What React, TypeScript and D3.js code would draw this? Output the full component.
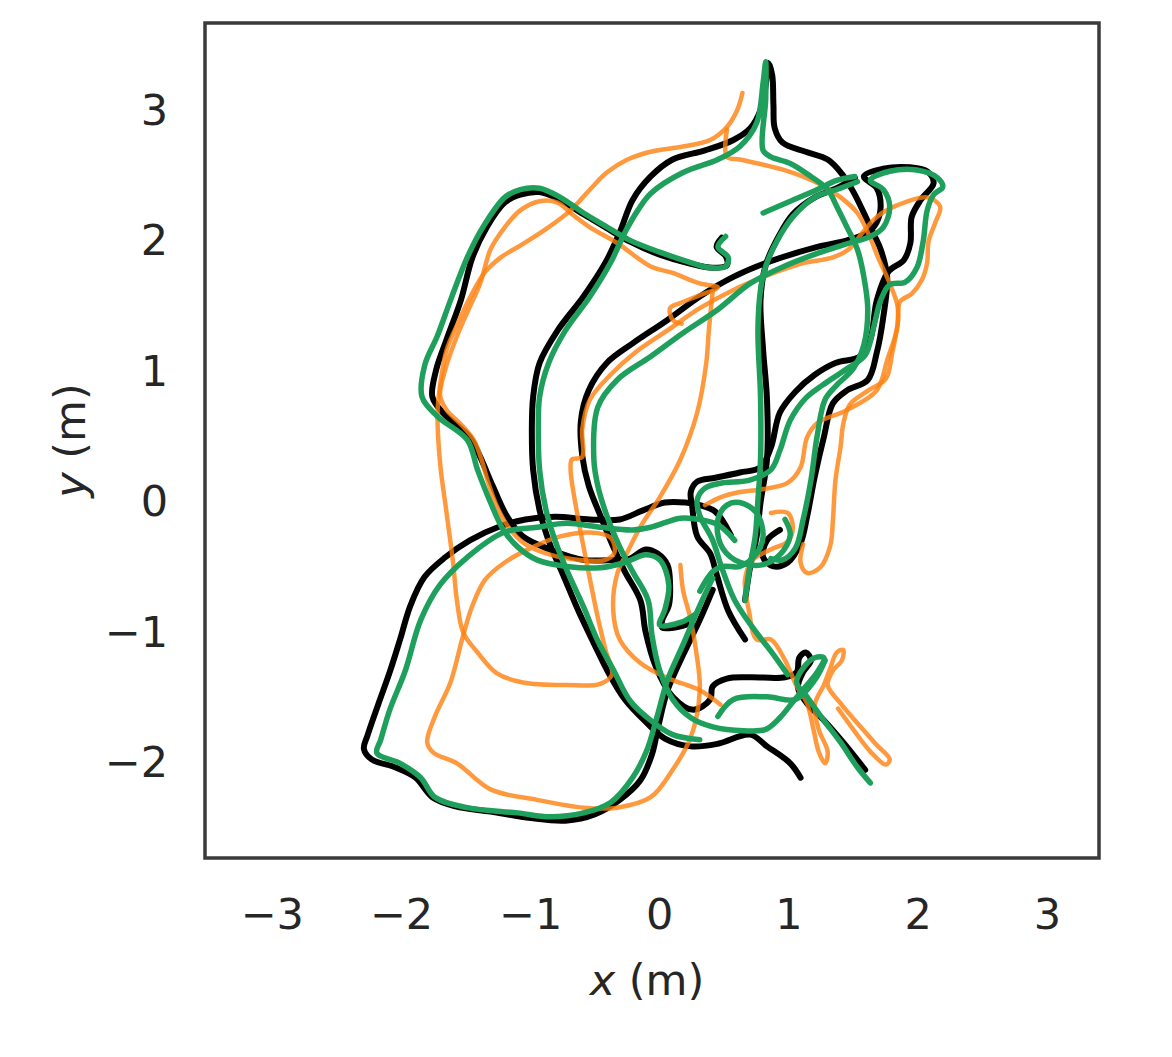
import React from "react";
import * as d3 from "d3";

type P = [number, number];

const xTicks = [-3, -2, -1, 0, 1, 2, 3];
const yTicks = [-2, -1, 0, 1, 2, 3];

// ground truth (black)
const blackA: P[] = [[0.48,2.02],[0.44,1.95],[0.51,1.88],[0.52,1.81],[0.41,1.79],[0.24,1.82],[0.00,1.89],[-0.23,1.99],[-0.42,2.10],[-0.59,2.20],[-0.77,2.31],[-0.93,2.37],[-1.08,2.35],[-1.20,2.29],[-1.34,2.10],[-1.45,1.87],[-1.54,1.54],[-1.65,1.24],[-1.73,1.01],[-1.76,0.80],[-1.68,0.68],[-1.47,0.49],[-1.39,0.34],[-1.29,0.11],[-1.18,-0.12],[-1.06,-0.27],[-0.85,-0.37],[-0.59,-0.45],[-0.36,-0.45],[-0.23,-0.44],[-0.11,-0.37],[-0.02,-0.40],[0.06,-0.49],[0.08,-0.64],[0.07,-0.80],[0.02,-0.91],[0.02,-0.97],[0.16,-0.96],[0.25,-0.93]];
const blackB: P[] = [[0.55,-0.26],[0.43,-0.08],[0.31,-0.03],[0.20,-0.01],[0.04,-0.01],[-0.13,-0.07],[-0.31,-0.14],[-0.54,-0.14],[-0.81,-0.12],[-1.04,-0.14],[-1.23,-0.19],[-1.47,-0.30],[-1.66,-0.43],[-1.82,-0.58],[-1.93,-0.80],[-2.01,-1.06],[-2.09,-1.31],[-2.18,-1.56],[-2.26,-1.79],[-2.29,-1.90],[-2.23,-1.98],[-2.05,-2.04],[-1.89,-2.12],[-1.76,-2.27],[-1.58,-2.34],[-1.31,-2.38],[-1.00,-2.43],[-0.73,-2.45],[-0.50,-2.40],[-0.31,-2.29],[-0.15,-2.14],[-0.06,-1.94],[-0.01,-1.72],[0.06,-1.45],[0.18,-1.18],[0.31,-0.91],[0.41,-0.68]];
const blackC: P[] = [[1.09,-2.12],[1.01,-2.01],[0.83,-1.88],[0.70,-1.79],[0.45,-1.86],[0.24,-1.88],[0.04,-1.82],[-0.11,-1.69],[-0.27,-1.52],[-0.40,-1.31],[-0.51,-1.09],[-0.63,-0.84],[-0.75,-0.56],[-0.85,-0.33],[-0.93,-0.07],[-0.98,0.24],[-0.99,0.55],[-0.98,0.80],[-0.93,1.06],[-0.79,1.31],[-0.59,1.57],[-0.42,1.83],[-0.31,2.06],[-0.21,2.31],[-0.07,2.49],[0.10,2.62],[0.35,2.69],[0.57,2.77],[0.70,2.86],[0.78,3.00],[0.82,3.19],[0.84,3.36],[0.87,3.27],[0.88,3.04],[0.89,2.86],[0.95,2.75],[1.13,2.68],[1.30,2.62],[1.41,2.51],[1.50,2.37],[1.58,2.21],[1.65,2.06],[1.71,1.93],[1.76,1.72],[1.73,1.41],[1.68,1.14],[1.61,0.93],[1.45,0.85],[1.34,0.75],[1.27,0.49],[1.20,0.19],[1.14,-0.12],[1.09,-0.32],[0.99,-0.47],[0.88,-0.50],[0.80,-0.43],[0.83,-0.30],[0.93,-0.22]];
const blackD: P[] = [[1.59,-2.06],[1.42,-1.85],[1.27,-1.68],[1.14,-1.55],[1.07,-1.43],[1.11,-1.31],[1.17,-1.22],[1.13,-1.16],[1.08,-1.20],[1.06,-1.31],[0.97,-1.35],[0.70,-1.35],[0.52,-1.36],[0.41,-1.42],[0.39,-1.52],[0.26,-1.60],[0.10,-1.50],[-0.03,-1.27],[-0.11,-1.00],[-0.15,-0.76],[-0.27,-0.54],[-0.36,-0.35],[-0.46,-0.11],[-0.55,0.12],[-0.60,0.35],[-0.61,0.62],[-0.55,0.85],[-0.41,1.06],[-0.21,1.21],[0.06,1.39],[0.31,1.57],[0.57,1.72],[0.83,1.83],[1.22,1.95],[1.45,2.00],[1.61,2.06],[1.68,2.14],[1.71,2.26],[1.68,2.40],[1.58,2.49],[1.73,2.55],[1.94,2.56],[2.07,2.53],[2.12,2.44],[2.02,2.31],[1.95,2.18],[1.94,1.98],[1.89,1.85],[1.77,1.76],[1.68,1.54],[1.63,1.24],[1.55,1.11],[1.36,1.06],[1.20,0.97],[1.05,0.84],[0.93,0.68],[0.86,0.41],[0.78,0.26],[0.62,0.22],[0.43,0.18],[0.29,0.15],[0.24,0.07],[0.25,-0.03],[0.29,-0.27],[0.39,-0.40],[0.44,-0.56],[0.53,-0.84],[0.66,-1.06]];
const blackE: P[] = [[0.66,-0.76],[0.70,-0.50],[0.75,-0.27],[0.78,-0.01],[0.83,0.32],[0.83,0.78],[0.80,1.16],[0.78,1.54],[0.82,1.81],[0.92,2.03],[1.03,2.20],[1.20,2.33],[1.37,2.40],[1.51,2.48]];

// estimate 1 (orange)
const orangeA: P[] = [[0.64,3.13],[0.60,3.00],[0.52,2.87],[0.39,2.77],[0.18,2.72],[-0.07,2.68],[-0.25,2.62],[-0.41,2.52],[-0.54,2.39],[-0.69,2.23],[-0.89,2.08],[-1.08,1.96],[-1.23,1.87],[-1.35,1.76],[-1.47,1.56],[-1.56,1.37],[-1.65,1.16],[-1.70,0.89],[-1.72,0.68],[-1.70,0.29],[-1.65,-0.09],[-1.60,-0.47],[-1.57,-0.76],[-1.52,-1.01],[-1.41,-1.16],[-1.26,-1.32],[-1.06,-1.39],[-0.72,-1.41],[-0.46,-1.40],[-0.37,-1.33],[-0.42,-1.14],[-0.48,-0.89],[-0.54,-0.60],[-0.59,-0.35],[-0.64,-0.09],[-0.69,0.24],[-0.68,0.32],[-0.60,0.34],[-0.60,0.55],[-0.54,0.78],[-0.38,0.97],[-0.19,1.14],[0.06,1.31],[0.31,1.48],[0.57,1.62],[0.83,1.73],[1.09,1.82],[1.34,1.87],[1.46,1.93],[1.57,2.06],[1.68,2.18],[1.84,2.27],[2.07,2.33],[2.17,2.26],[2.13,2.13],[2.08,1.99],[2.07,1.83],[2.03,1.70],[1.95,1.59],[1.86,1.53],[1.84,1.35],[1.80,1.14],[1.75,0.94],[1.60,0.84],[1.47,0.74],[1.42,0.59],[1.40,0.42],[1.36,0.16],[1.34,-0.15],[1.32,-0.34],[1.24,-0.51],[1.14,-0.55],[1.09,-0.47],[1.11,-0.33]];
const orangeB: P[] = [[0.17,1.36],[0.10,1.39],[0.08,1.48],[0.16,1.52],[0.31,1.58],[0.45,1.64],[0.31,1.67],[0.10,1.75],[-0.07,1.80],[-0.33,1.98],[-0.54,2.10],[-0.69,2.21],[-0.79,2.29],[-0.93,2.30],[-1.08,2.23],[-1.20,2.10],[-1.31,1.93],[-1.39,1.67],[-1.48,1.47],[-1.58,1.24],[-1.66,1.01],[-1.70,0.81],[-1.65,0.70],[-1.53,0.58],[-1.44,0.47],[-1.38,0.32],[-1.33,0.15],[-1.26,-0.04],[-1.17,-0.20],[-1.04,-0.33],[-0.85,-0.41],[-0.62,-0.45],[-0.42,-0.45],[-0.35,-0.39],[-0.38,-0.28],[-0.54,-0.24],[-0.77,-0.27],[-1.00,-0.36],[-1.20,-0.47],[-1.35,-0.60],[-1.45,-0.80],[-1.53,-1.06],[-1.62,-1.39],[-1.74,-1.65],[-1.80,-1.85],[-1.75,-1.93],[-1.57,-2.01],[-1.31,-2.21],[-0.95,-2.29],[-0.59,-2.35],[-0.33,-2.35],[-0.07,-2.27],[0.10,-2.06],[0.24,-1.81],[0.31,-1.45],[0.28,-1.14],[0.24,-0.91],[0.18,-0.68],[0.16,-0.49]];
const orangeC: P[] = [[0.52,2.85],[0.52,2.64],[0.62,2.62],[0.96,2.54],[1.22,2.44],[1.40,2.33],[1.53,2.21],[1.62,2.04],[1.69,1.87],[1.78,1.67],[1.84,1.50],[1.84,1.34],[1.76,1.08],[1.68,0.85],[1.45,0.70],[1.22,0.60],[1.14,0.49],[1.09,0.26],[0.99,0.14],[0.78,0.09],[0.62,0.07],[0.47,0.03],[0.35,-0.03]];
const orangeD: P[] = [[0.41,1.61],[0.38,1.31],[0.36,1.06],[0.29,0.68],[0.16,0.32],[0.00,0.03],[-0.14,-0.18],[-0.24,-0.37],[-0.33,-0.56],[-0.36,-0.84],[-0.31,-1.06],[-0.15,-1.24],[0.07,-1.36],[0.31,-1.45],[0.47,-1.56]];
const orangeE: P[] = [[0.86,-0.09],[0.99,-0.09],[1.03,-0.20],[0.99,-0.31],[0.86,-0.37],[0.72,-0.45],[0.66,-0.60],[0.69,-0.84],[0.75,-1.06],[0.86,-1.06],[0.97,-1.22],[1.06,-1.42],[1.14,-1.55],[1.19,-1.75],[1.23,-1.92],[1.28,-2.01],[1.30,-1.92],[1.23,-1.75],[1.20,-1.56],[1.27,-1.41],[1.32,-1.28],[1.37,-1.16],[1.42,-1.14],[1.41,-1.22],[1.34,-1.30],[1.30,-1.41],[1.40,-1.55],[1.51,-1.68],[1.68,-1.87],[1.78,-1.98],[1.75,-2.02],[1.63,-1.92],[1.49,-1.74],[1.38,-1.59]];

// estimate 2 (green)
const greenA: P[] = [[0.51,2.03],[0.45,1.95],[0.53,1.87],[0.51,1.80],[0.39,1.79],[0.24,1.83],[0.00,1.91],[-0.23,2.00],[-0.42,2.11],[-0.59,2.21],[-0.77,2.33],[-0.93,2.40],[-1.08,2.39],[-1.20,2.33],[-1.37,2.10],[-1.49,1.87],[-1.62,1.54],[-1.72,1.27],[-1.82,1.04],[-1.84,0.80],[-1.72,0.65],[-1.49,0.47],[-1.41,0.24],[-1.31,-0.01],[-1.21,-0.22],[-1.10,-0.35],[-0.95,-0.45],[-0.72,-0.50],[-0.46,-0.51],[-0.27,-0.47],[-0.11,-0.41],[0.00,-0.45],[0.07,-0.64],[0.04,-0.83],[0.00,-0.95],[0.16,-0.93],[0.27,-0.87]];
const greenB: P[] = [[0.58,-0.30],[0.45,-0.18],[0.31,-0.14],[0.16,-0.13],[-0.07,-0.20],[-0.21,-0.22],[-0.46,-0.20],[-0.72,-0.17],[-0.95,-0.20],[-1.21,-0.24],[-1.49,-0.43],[-1.70,-0.64],[-1.85,-0.91],[-1.97,-1.30],[-2.09,-1.60],[-2.16,-1.83],[-2.19,-1.93],[-2.01,-2.01],[-1.85,-2.12],[-1.74,-2.27],[-1.49,-2.35],[-1.10,-2.39],[-0.85,-2.42],[-0.59,-2.39],[-0.38,-2.31],[-0.21,-2.12],[-0.10,-1.91],[-0.02,-1.65],[0.06,-1.37],[0.18,-1.10],[0.31,-0.80],[0.41,-0.59]];
const greenC: P[] = [[0.31,-1.83],[0.10,-1.79],[-0.07,-1.68],[-0.23,-1.53],[-0.36,-1.29],[-0.48,-1.07],[-0.59,-0.81],[-0.71,-0.55],[-0.80,-0.33],[-0.88,-0.07],[-0.93,0.24],[-0.94,0.55],[-0.93,0.80],[-0.86,1.06],[-0.73,1.31],[-0.54,1.57],[-0.38,1.83],[-0.27,2.06],[-0.17,2.23],[-0.07,2.36],[0.18,2.52],[0.45,2.62],[0.62,2.72],[0.75,2.90],[0.80,3.21],[0.82,3.37],[0.82,3.08],[0.80,2.69],[0.86,2.64],[1.01,2.59],[1.17,2.49],[1.30,2.39],[1.37,2.26],[1.45,2.10],[1.53,1.93],[1.58,1.72],[1.61,1.47],[1.58,1.20],[1.50,1.02],[1.37,0.89],[1.28,0.78],[1.22,0.51],[1.17,0.16],[1.11,-0.14],[1.05,-0.36],[0.95,-0.45],[0.86,-0.44]];
const greenD: P[] = [[1.63,-2.16],[1.53,-2.04],[1.40,-1.85],[1.27,-1.68],[1.14,-1.50],[1.06,-1.39],[1.11,-1.28],[1.20,-1.20],[1.27,-1.20],[1.22,-1.31],[1.13,-1.42],[1.03,-1.54],[0.93,-1.66],[0.82,-1.75],[0.65,-1.76],[0.41,-1.73],[0.24,-1.66],[0.10,-1.52],[0.00,-1.30],[-0.06,-1.03],[-0.09,-0.76],[-0.21,-0.54],[-0.31,-0.35],[-0.41,-0.11],[-0.48,0.12],[-0.51,0.32],[-0.48,0.72],[-0.33,0.93],[-0.07,1.11],[0.18,1.29],[0.45,1.47],[0.70,1.67],[0.96,1.80],[1.22,1.90],[1.47,1.98],[1.63,2.03],[1.73,2.10],[1.78,2.26],[1.73,2.39],[1.63,2.46],[1.78,2.53],[1.99,2.54],[2.15,2.48],[2.19,2.41],[2.12,2.35],[2.07,2.23],[2.04,2.00],[1.99,1.79],[1.90,1.68],[1.78,1.66],[1.71,1.54],[1.65,1.31],[1.59,1.12],[1.44,1.01],[1.26,0.89],[1.13,0.79],[1.01,0.62],[0.93,0.39],[0.86,0.24],[0.69,0.16],[0.48,0.14],[0.35,0.10],[0.29,0.01],[0.31,-0.11],[0.41,-0.30],[0.48,-0.51],[0.58,-0.76],[0.72,-0.97],[0.86,-1.15],[0.99,-1.33]];
const greenE: P[] = [[0.66,-0.76],[0.70,-0.49],[0.74,-0.26],[0.76,0.01],[0.78,0.32],[0.78,0.80],[0.76,1.31],[0.78,1.62],[0.82,1.80],[0.91,2.00],[1.03,2.18],[1.20,2.33],[1.37,2.39],[1.53,2.45]];
const greenF: P[] = [[0.80,2.21],[1.01,2.30],[1.22,2.39],[1.37,2.46],[1.51,2.49]];
const greenG: P[] = [[0.31,-0.69],[0.41,-0.54],[0.49,-0.50],[0.62,-0.50],[0.75,-0.40],[0.80,-0.27],[0.75,-0.09],[0.62,-0.01],[0.52,-0.03],[0.45,-0.14],[0.47,-0.33],[0.58,-0.45],[0.78,-0.49],[0.93,-0.41],[1.01,-0.26],[0.97,-0.14]];
const greenH: P[] = [[0.45,-1.65],[0.57,-1.52],[0.83,-1.50],[1.05,-1.52],[1.20,-1.37],[1.28,-1.22]];

const blackPaths = [blackA, blackB, blackC, blackD, blackE];
const orangePaths = [orangeA, orangeB, orangeC, orangeD, orangeE];
const greenPaths = [greenA, greenB, greenC, greenD, greenE, greenF, greenG, greenH];

const W = 1172;
const H = 1057;
const L = 205, R = 1099, T = 23, B = 858;

export default function App() {
  const x = d3.scaleLinear().domain([-3.52, 3.40]).range([L, R]);
  const y = d3.scaleLinear().domain([-2.736, 3.667]).range([B, T]);
  const line = d3
    .line<P>()
    .x((d) => x(d[0]))
    .y((d) => y(d[1]))
    .curve(d3.curveCatmullRom.alpha(0.5));
  const fmt = (v: number) => (v < 0 ? "\u2212" + Math.abs(v) : String(v));
  const font = "DejaVu Sans, sans-serif";
  return (
    <svg
      width={W}
      height={H}
      style={{ position: "absolute", left: 0, top: 0, background: "#fff" }}
    >
      <defs>
        <clipPath id="plotclip">
          <rect x={L} y={T} width={R - L} height={B - T} />
        </clipPath>
      </defs>
      <rect x={0} y={0} width={W} height={H} fill="#fff" />
      <g clipPath="url(#plotclip)" fill="none" strokeLinejoin="round" strokeLinecap="round">
        {blackPaths.map((p, i) => (
          <path key={"k" + i} d={line(p) || ""} stroke="#000" strokeWidth={6} />
        ))}
        {orangePaths.map((p, i) => (
          <path key={"o" + i} d={line(p) || ""} stroke="#ff7f0e" strokeOpacity={0.8} strokeWidth={4.5} />
        ))}
        {greenPaths.map((p, i) => (
          <path key={"g" + i} d={line(p) || ""} stroke="#1f9f5c" strokeWidth={5.5} />
        ))}
      </g>
      <rect x={L} y={T} width={R - L} height={B - T} fill="none" stroke="#3a3a3a" strokeWidth={3.5} />
      <g fontFamily={font} fontSize={43} fill="#262626">
        {xTicks.map((t) => (
          <text key={"xt" + t} x={x(t)} y={929} textAnchor="middle">
            {fmt(t)}
          </text>
        ))}
        {yTicks.map((t) => (
          <text key={"yt" + t} x={168} y={y(t)} textAnchor="end" dominantBaseline="central">
            {fmt(t)}
          </text>
        ))}
        <text x={(L + R) / 2 - 5} y={995} textAnchor="middle">
          <tspan fontStyle="italic">x</tspan> (m)
        </text>
        <text
          transform={`translate(70, ${(T + B) / 2}) rotate(-90)`}
          textAnchor="middle"
          dominantBaseline="central"
        >
          <tspan fontStyle="italic">y</tspan> (m)
        </text>
      </g>
    </svg>
  );
}
